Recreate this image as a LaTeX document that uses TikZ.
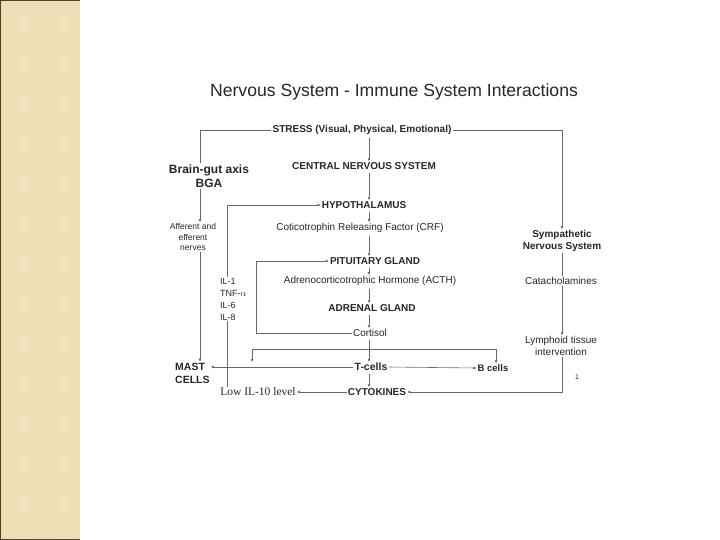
\documentclass[tikz,border=0pt]{standalone}
\usepackage{fontspec}
\setmainfont{Liberation Sans}
\newfontfamily\lowfont{Liberation Serif}
\usetikzlibrary{positioning,calc,arrows.meta}
\definecolor{bandtan}{RGB}{238,223,182}
\definecolor{bandspot}{RGB}{240,227,190}
\definecolor{bandedge}{RGB}{82,64,36}
\definecolor{linkgray}{RGB}{105,105,105}
\tikzset{
    every node/.style={font=\fontsize{10}{12}\selectfont, text=black!85, inner sep=1pt},
    headbox/.style={font=\bfseries\fontsize{10}{12}\selectfont, align=center},
    textbox/.style={font=\fontsize{10}{11.5}\selectfont, align=center},
    tinybox/.style={font=\fontsize{8.5}{10.5}\selectfont, align=center},
    link/.style={draw=linkgray, line width=0.6pt},
    arrow/.style={link, -{Latex[length=3pt,width=3pt]}},
}
\begin{document}
\begin{tikzpicture}[x=1pt,y=-1pt]
\useasboundingbox (0,0) rectangle (720,540);
% side band
\fill[bandtan] (0,0) rectangle (80,540);
\foreach \x in {18,58}{
  \foreach \y in {18,58,...,538}{
    \fill[bandspot] (\x,\y) rectangle ++(12,12);
  }
}
\draw[bandedge, line width=1.4pt] (80,0.7) -- (0.7,0.7) -- (0.7,539.3) -- (80,539.3);
% title
\node[font=\fontsize{17.6}{20}\selectfont] (title) at (394,92) {Nervous System - Immune System Interactions};
% main column
\node[headbox] (stress) at (362,130) {STRESS (Visual, Physical, Emotional)};
\node[headbox] (cns)    at (364,166) {CENTRAL NERVOUS SYSTEM};
\node[headbox] (hypo)   at (364,205) {HYPOTHALAMUS};
\node[textbox] (crf)    at (360,228) {Coticotrophin Releasing Factor (CRF)};
\node[headbox] (pit)    at (375,261) {PITUITARY GLAND};
\node[textbox] (acth)   at (370,281) {Adrenocorticotrophic Hormone (ACTH)};
\node[headbox] (adr)    at (372,308) {ADRENAL GLAND};
\node[textbox] (cort)   at (370,333) {Cortisol};
\node[headbox, font=\bfseries\fontsize{10.5}{12}\selectfont] (tcell) at (371,367) {T-cells};
\node[headbox] (cyto)   at (377,392) {CYTOKINES};
% left side
\node[headbox, font=\bfseries\fontsize{12}{14}\selectfont] (bga) at (209,176) {Brain-gut axis\\BGA};
\node[tinybox] (aff)  at (193,237) {Afferent and\\efferent\\nerves};
\node[textbox, align=left, anchor=west, font=\fontsize{9}{12}\selectfont] (ils) at (219,299) {IL-1\\TNF-$\alpha$\\IL-6\\IL-8};
\node[headbox, align=left, anchor=west, font=\bfseries\fontsize{10.5}{13}\selectfont] (mast) at (174,373) {MAST\\CELLS};
\node[textbox, font=\lowfont\fontsize{11.5}{13}\selectfont] (low) at (258,392) {Low IL-10 level};
% right side
\node[headbox] (symp)  at (562,241) {Sympathetic\\Nervous System};
\node[textbox] (cat)   at (561,281) {Catacholamines};
\node[textbox] (lymph) at (561,346) {Lymphoid tissue\\intervention};
\node[headbox, font=\bfseries\fontsize{9.5}{11}\selectfont] (bcell) at (493,368) {B cells};
\node[font=\fontsize{7}{8}\selectfont] (pgno) at (577,377) {1};
% columns for the connectors
\coordinate (spine) at (369,0);
\coordinate (gut)   at (200,0);
\coordinate (ilx)   at (227,0);
\coordinate (fb)    at (256,0);
\coordinate (sym)   at (562,0);
\coordinate (barl)  at (252,349);
\coordinate (barr)  at (496,349);
\coordinate (bartip) at (252,362);
% main chain
\foreach \a/\b in {stress/cns, cns/hypo, hypo/crf, crf/pit, pit/acth, acth/adr, adr/cort, cort/tcell, tcell/cyto}{
  \draw[arrow, shorten <=2pt] (\a.south -| spine) -- (\b.north -| spine);
}
% brain-gut axis branch
\draw[link] (stress.west) -| (bga.north -| gut);
\draw[arrow] (bga.south -| gut) -- (aff.north -| gut);
\draw[arrow] (aff.south -| gut) -- (mast.north -| gut);
% sympathetic branch
\draw[arrow] (stress.east) -| (symp.north -| sym);
\draw[link] (symp.south -| sym) -- (cat.north -| sym);
\draw[arrow] (cat.south -| sym) -- (lymph.north -| sym);
\draw[arrow] (lymph.south -| sym) |- (cyto.east);
% feedback loops
\draw[arrow] (ils.north -| ilx) |- (hypo.west);
\draw[link] (ils.south -| ilx) -- (low.north -| ilx);
\draw[arrow] (cort.west) -| (pit.west -| fb) -- (pit.west);
\draw[link, {Latex[length=3pt,width=3pt]}-{Latex[length=3pt,width=3pt]}] (bartip) -- (barl) -- (barr) -- (bcell.north -| barr);
% cell outputs
\draw[arrow] (tcell.west) -- (tcell.west -| mast.east);
\draw[arrow] (tcell.east) -- (bcell.west);
\draw[arrow] (cyto.west) -- (low.east);
\end{tikzpicture}
\end{document}
